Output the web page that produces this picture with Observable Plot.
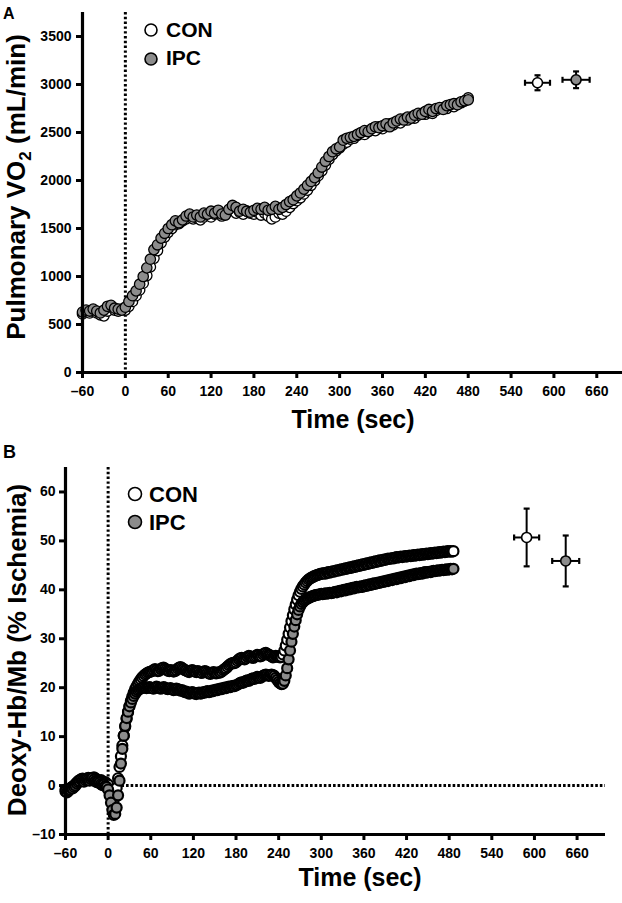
<!DOCTYPE html>
<html><head><meta charset="utf-8">
<script src="https://cdn.jsdelivr.net/npm/d3@7"></script>
<script src="https://cdn.jsdelivr.net/npm/@observablehq/plot@0.6"></script>
<style>
body{margin:0;background:#fff;}
#wrap{position:relative;width:622px;height:903px;overflow:hidden;background:#fff;}
.panel{position:absolute;left:0;}
#overlay{position:absolute;left:0;top:0;pointer-events:none;}
</style></head><body><div id="wrap"><div class="panel" id="pa" style="top:0"></div><div class="panel" id="pb" style="top:440px"></div></div>
<script>
// ---------- data ----------
const timeTicks = [-60, 0, 60, 120, 180, 240, 300, 360, 420, 480, 540, 600, 660];
const vo2Ticks = [0, 500, 1000, 1500, 2000, 2500, 3000, 3500];
const deoxyTicks = [-10, 0, 10, 20, 30, 40, 50, 60];
const groups = ["CON", "IPC"];

// Panel A: pulmonary VO2 (mL/min), samples every 5 s from -60 s
const vo2Start = -60, vo2Step = 5;
const vo2CON = [
  610,630,620,640,620,600,590,640,680,650,640,660,650,
  690,740,800,860,930,1010,1100,1190,1270,1350,
  1410,1460,1500,1540,1550,1580,1600,1620,1600,1610,
  1590,1620,1640,1620,1650,1660,1630,1660,1680,1690,
  1660,1670,1650,1680,1660,1650,1670,1640,1660,1630,
  1600,1620,1660,1650,1680,1720,1760,1790,1820,1860,
  1900,1950,2000,2050,2100,2160,2220,2270,2310,2340,
  2380,2400,2430,2440,2470,2490,2480,2510,2530,2520,
  2560,2540,2570,2590,2580,2610,2600,2640,2630,2660,
  2650,2680,2700,2690,2710,2700,2730,2750,2760,2750,
  2780,2770,2800,2810,2830,2860
];
const vo2IPC = [
  630,650,640,660,640,620,650,690,700,670,660,650,680,
  740,800,850,920,1000,1090,1180,1280,1330,1400,
  1450,1500,1540,1580,1560,1590,1630,1650,1620,1640,
  1620,1660,1650,1680,1660,1690,1650,1640,1700,1740,
  1720,1680,1700,1680,1670,1690,1710,1700,1720,1690,
  1700,1730,1700,1720,1750,1780,1800,1840,1870,1910,
  1950,1990,2030,2080,2140,2200,2250,2300,2330,2350,
  2420,2440,2450,2460,2480,2500,2520,2510,2540,2560,
  2550,2570,2590,2560,2600,2620,2640,2630,2660,2650,
  2680,2700,2690,2720,2740,2720,2750,2760,2740,2780,
  2790,2800,2790,2820,2830,2840
];
// end-exercise means ± SD (time and value)
const vo2EndTime = [577, 631];
const vo2EndTimeSD = [17.5, 19];
const vo2EndValue = [3018, 3049];
const vo2EndSD = [78, 87];

// Panel B: deoxy-Hb/Mb (% ischemia), samples every 2 s from -60 s
const deoxyStart = -60, deoxyStep = 2;
const deoxyCON = [
  -0.8,-1.0,-0.9,-0.6,-0.4,-0.2,0.0,0.3,0.6,0.9,1.1,1.3,1.4,1.3,1.2,1.4,1.6,1.5,1.3,1.5,1.7,1.5,1.2,1.0,0.9,1.1,0.8,0.6,0.7,0.4,0.2,
  -0.8,-1.8,-2.6,-2.8,-2.0,-0.5,1.5,3.8,6.0,8.2,10.2,12.0,13.6,15.0,16.2,17.3,18.2,19.0,19.7,20.3,20.8,21.3,21.7,22.1,22.4,22.7,22.9,23.1,23.2,23.3,
  23.4,23.6,23.8,23.6,23.4,23.5,23.8,24.0,24.1,23.9,
  23.7,23.5,23.4,23.6,23.5,23.3,23.4,23.6,23.9,24.1,
  24.2,24.0,23.8,23.6,23.5,23.3,23.2,23.4,23.6,23.5,
  23.3,23.2,23.4,23.3,23.1,23.0,23.2,23.4,23.3,23.1,
  22.9,22.8,23.0,23.2,23.1,22.9,23.0,23.2,23.1,23.3,
  23.6,23.8,24.0,24.3,24.6,24.8,25.0,25.1,25.0,25.2,
  25.5,25.8,26.0,26.1,25.9,25.8,26.0,26.3,26.5,26.4,
  26.2,26.1,26.3,26.5,26.7,26.6,26.4,26.5,26.8,27.0,
  27.1,26.9,26.7,26.6,26.4,26.2,26.3,26.5,26.4,26.3,
  26.2,26.3,26.8,27.6,28.6,29.8,31.0,32.3,33.6,34.8,
  36.0,37.0,38.0,38.9,39.6,40.2,40.7,41.1,41.5,41.8,
  42.1,42.3,42.5,42.6,42.8,42.9,43.0,43.1,43.2,43.3,
  43.3,43.4,43.3,43.5,43.6,43.5,43.7,43.8,43.7,43.9,
  44.0,43.9,44.1,44.2,44.1,44.3,44.4,44.3,44.5,44.6,
  44.5,44.7,44.8,44.7,44.9,45.0,44.9,45.1,45.2,45.1,
  45.3,45.4,45.3,45.5,45.6,45.5,45.7,45.8,45.7,45.9,
  46.0,45.9,46.1,46.2,46.1,46.3,46.4,46.3,46.4,46.5,
  46.4,46.6,46.7,46.6,46.7,46.8,46.7,46.8,46.9,46.8,
  46.9,47.0,46.9,47.0,47.1,47.0,47.1,47.2,47.1,47.2,
  47.3,47.2,47.3,47.4,47.3,47.4,47.5,47.4,47.5,47.6,
  47.5,47.6,47.7,47.6,47.7,47.8,47.7,47.8,47.9,47.8,
  47.9,47.8,47.9
];
const deoxyIPC = [
  -1.2,-1.4,-1.1,-0.8,-0.5,-0.6,-0.3,0.0,0.4,0.7,0.9,1.2,1.0,0.8,1.1,1.3,1.2,1.0,1.3,1.5,1.2,0.9,0.7,0.8,0.6,0.3,0.1,0.2,-0.1,-0.3,-0.8,
  -2.0,-3.5,-5.0,-6.0,-5.8,-4.5,-2.0,1.0,4.5,7.5,10.2,12.2,13.8,15.1,16.2,17.0,17.7,18.3,18.8,19.2,19.5,19.7,19.9,20.0,20.1,20.0,19.9,20.0,20.1,20.0,
  19.9,19.8,20.0,20.2,20.1,19.9,19.8,19.9,20.1,20.0,
  19.8,19.7,19.8,19.9,19.7,19.5,19.6,19.8,19.7,19.5,
  19.4,19.5,19.3,19.1,19.2,19.0,18.8,18.9,19.1,19.0,
  18.8,18.7,18.9,19.0,18.8,18.9,19.1,19.0,19.2,19.3,
  19.1,19.2,19.4,19.3,19.5,19.6,19.5,19.7,19.8,19.7,
  19.9,20.0,19.9,20.1,20.2,20.1,20.3,20.4,20.3,20.5,
  20.6,20.8,21.0,21.1,21.0,21.2,21.4,21.5,21.4,21.6,
  21.8,21.9,21.8,22.0,22.2,22.1,22.0,22.2,22.4,22.6,
  22.7,22.6,22.4,22.5,22.7,22.6,22.4,22.0,21.6,21.2,
  20.9,20.7,20.8,21.4,22.5,24.0,25.8,27.6,29.4,31.0,
  32.5,33.8,35.0,35.9,36.6,37.1,37.5,37.8,38.0,38.2,
  38.3,38.5,38.6,38.7,38.8,38.9,39.0,39.0,39.1,39.2,
  39.1,39.2,39.3,39.2,39.3,39.4,39.3,39.4,39.5,39.6,
  39.5,39.7,39.8,39.7,39.9,40.0,39.9,40.1,40.2,40.1,
  40.3,40.4,40.3,40.5,40.6,40.5,40.6,40.7,40.6,40.8,
  40.9,40.8,41.0,41.1,41.0,41.2,41.3,41.2,41.4,41.5,
  41.4,41.6,41.7,41.6,41.8,41.9,41.8,42.0,42.1,42.0,
  42.2,42.3,42.2,42.4,42.5,42.4,42.6,42.7,42.6,42.8,
  42.9,42.8,43.0,43.1,43.0,43.2,43.3,43.2,43.3,43.4,
  43.3,43.5,43.6,43.5,43.6,43.7,43.6,43.8,43.9,43.8,
  43.9,44.0,43.9,44.0,44.1,44.0,44.1,44.2,44.1,44.2,
  44.3,44.2,44.3
];
const deoxyEndTime = [589, 644];
const deoxyEndTimeSD = [17.6, 19];
const deoxyEndValue = [50.7, 45.9];
const deoxyEndSD = [5.9, 5.2];

// ---------- build ----------
const FONT = '"Liberation Sans", Arial, Helvetica, sans-serif';
const GRAY = "#8c8c8c";
const series = (vals, start, step) => vals.map((v, i) => ({t: start + i * step, v}));
const ends = (t, tsd, v, sd) => groups.map((g, i) => ({g, t: t[i], tsd: tsd[i], v: v[i], sd: sd[i]}));
const fmt = d => d < 0 ? "\u2013" + Math.abs(d) : String(d);

const hCap = {draw(ctx, size) { const r = Math.sqrt(size / Math.PI); ctx.moveTo(-r, 0); ctx.lineTo(r, 0); }};
const vCap = {draw(ctx, size) { const r = Math.sqrt(size / Math.PI); ctx.moveTo(0, -r); ctx.lineTo(0, r); }};

function errorMarks(rows, r) {
  return [
    Plot.ruleX(rows, {x: "t", y1: d => d.v - d.sd, y2: d => d.v + d.sd, stroke: "black", strokeWidth: 2}),
    Plot.ruleY(rows, {y: "v", x1: d => d.t - d.tsd, x2: d => d.t + d.tsd, stroke: "black", strokeWidth: 2}),
    Plot.dot(rows, {x: "t", y: d => d.v + d.sd, symbol: hCap, r: 3, fill: "none", stroke: "black", strokeWidth: 2.2}),
    Plot.dot(rows, {x: "t", y: d => d.v - d.sd, symbol: hCap, r: 3, fill: "none", stroke: "black", strokeWidth: 2.2}),
    Plot.dot(rows, {x: d => d.t - d.tsd, y: "v", symbol: vCap, r: 3, fill: "none", stroke: "black", strokeWidth: 2.2}),
    Plot.dot(rows, {x: d => d.t + d.tsd, y: "v", symbol: vCap, r: 3, fill: "none", stroke: "black", strokeWidth: 2.2}),
    Plot.dot(rows.filter(d => d.g === "CON"), {x: "t", y: "v", r, fill: "white", stroke: "black", strokeWidth: 1.6}),
    Plot.dot(rows.filter(d => d.g === "IPC"), {x: "t", y: "v", r, fill: GRAY, stroke: "black", strokeWidth: 1.6})
  ];
}

const style = {fontFamily: FONT, fontSize: "14px", fontWeight: "bold", color: "black", background: "white"};

const plotA = Plot.plot({
  width: 622, height: 440,
  marginTop: 12, marginBottom: 68, marginLeft: 82, marginRight: 0,
  style,
  x: {domain: [-60, 696]},
  y: {domain: [0, 3750]},
  marks: [
    Plot.ruleX([0], {stroke: "black", strokeWidth: 3, strokeDasharray: "2.4,2.4"}),
    Plot.dot(series(vo2CON, vo2Start, vo2Step), {x: "t", y: "v", r: 5.2, fill: "white", stroke: "black", strokeWidth: 1.3}),
    Plot.dot(series(vo2IPC, vo2Start, vo2Step), {x: "t", y: "v", r: 5.2, fill: GRAY, stroke: "black", strokeWidth: 1.3}),
    ...errorMarks(ends(vo2EndTime, vo2EndTimeSD, vo2EndValue, vo2EndSD), 5),
    Plot.axisX({ticks: timeTicks, tickSize: 6, tickPadding: 8, strokeWidth: 3, tickFormat: fmt, label: null}),
    Plot.axisY({ticks: vo2Ticks, tickSize: 6, tickPadding: 5, strokeWidth: 3, tickFormat: fmt, label: null}),
    Plot.ruleY([0], {stroke: "black", strokeWidth: 3.2}),
    Plot.ruleX([-60], {stroke: "black", strokeWidth: 3.2})
  ]
});
document.getElementById("pa").appendChild(plotA);

const plotB = Plot.plot({
  width: 622, height: 463,
  marginTop: 27, marginBottom: 69, marginLeft: 65, marginRight: 17,
  style,
  x: {domain: [-60, 700]},
  y: {domain: [-10, 65]},
  marks: [
    Plot.ruleX([0], {stroke: "black", strokeWidth: 3, strokeDasharray: "2.4,2.4"}),
    Plot.ruleY([0], {x1: 0, x2: 700, stroke: "black", strokeWidth: 3, strokeDasharray: "2.6,2"}),
    Plot.dot(series(deoxyCON, deoxyStart, deoxyStep), {x: "t", y: "v", r: 5, fill: "white", stroke: "black", strokeWidth: 2.2}),
    Plot.dot(series(deoxyIPC, deoxyStart, deoxyStep), {x: "t", y: "v", r: 5, fill: GRAY, stroke: "black", strokeWidth: 2.2}),
    ...errorMarks(ends(deoxyEndTime, deoxyEndTimeSD, deoxyEndValue, deoxyEndSD), 5),
    Plot.axisX({ticks: timeTicks, tickSize: 6, tickPadding: 8, strokeWidth: 3, tickFormat: fmt, label: null}),
    Plot.axisY({ticks: deoxyTicks, tickSize: 6, tickPadding: 4, strokeWidth: 3, tickFormat: fmt, label: null}),
    Plot.ruleY([-10], {stroke: "black", strokeWidth: 3.2}),
    Plot.ruleX([-60], {stroke: "black", strokeWidth: 3.2})
  ]
});
document.getElementById("pb").appendChild(plotB);

// ---------- labels, panel letters, legends ----------
const NS = "http://www.w3.org/2000/svg";
const ov = document.createElementNS(NS, "svg");
ov.setAttribute("id", "overlay");
ov.setAttribute("width", 622); ov.setAttribute("height", 903);
ov.setAttribute("font-family", FONT); ov.setAttribute("font-weight", "bold");
function txt(s, x, y, size, extra) {
  const t = document.createElementNS(NS, "text");
  t.setAttribute("x", x); t.setAttribute("y", y); t.setAttribute("font-size", size);
  if (extra) for (const k in extra) t.setAttribute(k, extra[k]);
  t.textContent = s; ov.appendChild(t); return t;
}
function circ(cx, cy, r, fill) {
  const c = document.createElementNS(NS, "circle");
  c.setAttribute("cx", cx); c.setAttribute("cy", cy); c.setAttribute("r", r);
  c.setAttribute("fill", fill); c.setAttribute("stroke", "black"); c.setAttribute("stroke-width", 1.6);
  ov.appendChild(c);
}
txt("A", 3, 19, 16);
txt("B", 3, 458, 18);
txt("Time (sec)", 353, 428, 25, {"text-anchor": "middle"});
txt("Time (sec)", 360, 886, 25, {"text-anchor": "middle"});
const ya = txt("", 0, 0, 26, {"text-anchor": "middle", transform: "translate(25,187) rotate(-90)"});
ya.innerHTML = 'Pulmonary VO<tspan font-size="17" dy="6">2</tspan><tspan dy="-6"> (mL/min)</tspan>';
txt("Deoxy-Hb/Mb (% Ischemia)", 0, 0, 26, {"text-anchor": "middle", transform: "translate(26,650) rotate(-90)"});
circ(151, 30, 6, "white"); txt(groups[0], 166, 37, 21);
circ(151, 59, 6, GRAY); txt(groups[1], 166, 65, 21);
circ(135, 494, 6.5, "white"); txt(groups[0], 149, 502, 22);
circ(135, 522, 6.5, GRAY); txt(groups[1], 149, 530, 22);
document.getElementById("wrap").appendChild(ov);
</script></body></html>
